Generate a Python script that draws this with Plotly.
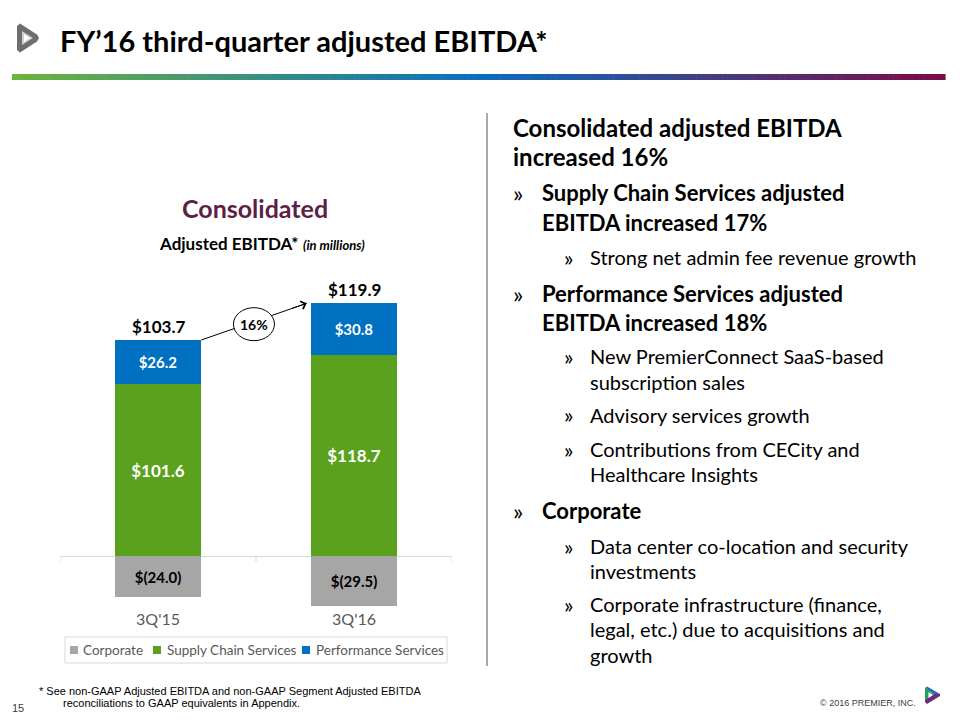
import plotly.graph_objects as go

# ---------------- data ----------------
categories = ["3Q'15", "3Q'16"]
corporate = [-24.0, -29.5]
supply_chain = [101.6, 118.7]
performance = [26.2, 30.8]
totals = [103.7, 119.9]
growth_label = "16%"

series_names = ["Corporate", "Supply Chain Services", "Performance Services"]
series_colors = ["#A6A6A6", "#5AA21E", "#0070C0"]

title_text = "FY\u201916 third-quarter adjusted EBITDA*"
chart_title = "Consolidated"
chart_subtitle = "Adjusted EBITDA*"
chart_subtitle_note = "(in millions)"

bullets = [
    # (level, text lines)
    (0, ["Consolidated adjusted EBITDA", "increased 16%"]),
    (1, ["Supply Chain Services adjusted", "EBITDA increased 17%"]),
    (2, ["Strong net admin fee revenue growth"]),
    (1, ["Performance Services adjusted", "EBITDA increased 18%"]),
    (2, ["New PremierConnect SaaS-based", "subscription sales"]),
    (2, ["Advisory services growth"]),
    (2, ["Contributions from CECity and", "Healthcare Insights"]),
    (1, ["Corporate"]),
    (2, ["Data center co-location and security", "investments"]),
    (2, ["Corporate infrastructure (finance,", "legal, etc.) due to acquisitions and", "growth"]),
]
footnote_lines = ["* See non-GAAP Adjusted EBITDA and non-GAAP Segment Adjusted EBITDA",
                  "reconciliations to GAAP equivalents in Appendix."]
page_number = "15"
copyright_text = "\u00a9 2016 PREMIER, INC."


def money(v):
    return f"$({abs(v):.1f})" if v < 0 else f"${v:.1f}"


# ---------------- layout helpers ----------------
W, H = 960, 720
FONT = "Lato, Open Sans, sans-serif"
NARROW = "Liberation Sans Narrow, Liberation Sans, Arial, sans-serif"


def px(x, y):
    return x / W, 1 - y / H


ZERO_PX, PX_PER_UNIT, PLOT_TOP, PLOT_BOT = 556, 1.69, 280, 608
PLOT_LEFT, PLOT_RIGHT = 60, 452
y_range = [-(PLOT_BOT - ZERO_PX) / PX_PER_UNIT, (ZERO_PX - PLOT_TOP) / PX_PER_UNIT]
BAR_W = 0.435

fig = go.Figure()
label_styles = [
    dict(color="black", size=15),
    dict(color="white", size=17),
    dict(color="white", size=15),
]
for name, vals, color, lab in zip(series_names, [corporate, supply_chain, performance],
                                   series_colors, label_styles):
    fig.add_bar(
        name=name, x=categories, y=vals, width=BAR_W,
        marker=dict(color=color, line=dict(width=0)),
        text=[money(v) for v in vals], textposition="inside",
        insidetextanchor="middle", textangle=0,
        textfont=dict(family=FONT, weight="bold", **lab),
        constraintext="none", hoverinfo="skip", showlegend=False,
    )

shapes = []
annotations = []


def ann(xp, yp, text, size, color="black", weight="normal", family=FONT,
        xanchor="left", yanchor="middle", style="normal"):
    x, y = px(xp, yp)
    annotations.append(dict(x=x, y=y, xref="paper", yref="paper", text=text,
                            xanchor=xanchor, yanchor=yanchor, showarrow=False,
                            font=dict(family=family, size=size, color=color,
                                      weight=weight, style=style)))


def path(points):
    s = ""
    for i, (pxx, pyy) in enumerate(points):
        X, Y = px(pxx, pyy)
        s += ("M" if i == 0 else "L") + f"{X:.5f},{Y:.5f} "
    return s + "Z"


# category boundary tick marks on the zero line
for xb in [-0.5, 0.5, 1.5]:
    shapes.append(dict(type="line", xref="x", yref="y", x0=xb, x1=xb,
                       ysizemode="pixel", yanchor=0, y0=0, y1=-6,
                       line=dict(color="#D9D9D9", width=1)))

# totals above stacks
stack_tops = [s + p for s, p in zip(supply_chain, performance)]
for c, t, top in zip(categories, totals, stack_tops):
    annotations.append(dict(x=c, y=top, xref="x", yref="y", text=money(t),
                            showarrow=False, xanchor="center", yanchor="bottom", yshift=1,
                            font=dict(family=FONT, size=17, color="black", weight="bold")))

# growth arrow
x_start, y_start = 0 + BAR_W / 2 + 0.003, stack_tops[0]
x_end, y_end = 1 - BAR_W / 2 - 0.024, stack_tops[1]
x_mid, y_mid = (x_start + x_end) / 2, (y_start + y_end) / 2
shapes.append(dict(type="line", xref="x", yref="y", x0=x_start, y0=y_start,
                   x1=x_end, y1=y_end, line=dict(color="black", width=1)))
shapes.append(dict(type="circle", xref="x", yref="y", xsizemode="pixel", ysizemode="pixel",
                   xanchor=x_mid, yanchor=y_mid, x0=-20.5, x1=20.5, y0=-19, y1=14,
                   fillcolor="white", line=dict(color="black", width=1)))
t_head = 0.85
annotations.append(dict(x=x_end, y=y_end, xref="x", yref="y", text="",
                        ax=x_start + (x_end - x_start) * t_head,
                        ay=y_start + (y_end - y_start) * t_head,
                        axref="x", ayref="y", showarrow=True, arrowhead=4,
                        arrowsize=1.6, arrowwidth=1, arrowcolor="black", standoff=0))
annotations.append(dict(x=x_mid, y=y_mid, xref="x", yref="y", text=growth_label,
                        showarrow=False, xanchor="center", yanchor="middle", yshift=-3,
                        font=dict(family=FONT, size=14, color="black", weight="bold")))

# chart titles
ann(255, 208, chart_title, 25, color="#5C1F45", weight="bold", xanchor="center")
ann(262, 243,
    f"<b>{chart_subtitle}</b> <i><span style='font-size:13px'><b>{chart_subtitle_note}</b></span></i>",
    17, xanchor="center")

# slide title
ann(58, 40, title_text, 29, weight="bold")

# gradient rule under title
stops = [(0.0, (108, 180, 60)), (0.5, (10, 110, 190)), (1.0, (125, 10, 70))]


def grad(t):
    for (t0, c0), (t1, c1) in zip(stops[:-1], stops[1:]):
        if t0 <= t <= t1:
            f = (t - t0) / (t1 - t0)
            return "rgb(%d,%d,%d)" % tuple(round(a + (b - a) * f) for a, b in zip(c0, c1))
    return "rgb(%d,%d,%d)" % stops[-1][1]


N = 180
gx0, gx1, gy0, gy1 = 12, 945, 74, 80
for i in range(N):
    a = gx0 + (gx1 - gx0) * i / N
    b = gx0 + (gx1 - gx0) * (i + 1) / N + 0.6
    xa, ya = px(a, gy0)
    xb, yb = px(b, gy1)
    shapes.append(dict(type="rect", xref="paper", yref="paper", x0=xa, x1=xb, y0=yb, y1=ya,
                       fillcolor=grad((i + 0.5) / N), line=dict(width=0)))

# vertical divider
xa, ya = px(487, 113)
xb, yb = px(487, 666)
shapes.append(dict(type="line", xref="paper", yref="paper", x0=xa, x1=xb, y0=ya, y1=yb,
                   line=dict(color="#8C8C8C", width=1.5)))

# top-left logo (gray)
shapes.append(dict(type="path", xref="paper", yref="paper",
                   path=path([(17, 26), (20, 23.5), (37, 34.5), (39, 38), (37, 41.5), (20, 52.5), (17, 50)]),
                   fillcolor="#6E6E6E", line=dict(width=0)))
shapes.append(dict(type="path", xref="paper", yref="paper",
                   path=path([(22, 31), (33, 38), (22, 45)]),
                   fillcolor="#D0D0D0", line=dict(width=0)))
shapes.append(dict(type="path", xref="paper", yref="paper",
                   path=path([(24, 34), (30, 38), (24, 42)]),
                   fillcolor="white", line=dict(width=0)))

# bottom-right logo (colored)
shapes.append(dict(type="path", xref="paper", yref="paper",
                   path=path([(925, 688), (934, 694), (929, 697), (925, 700)]),
                   fillcolor="#1AA35A", line=dict(width=0)))
shapes.append(dict(type="path", xref="paper", yref="paper",
                   path=path([(925, 688), (927, 686.5), (940, 694), (934, 694)]),
                   fillcolor="#1F6FB8", line=dict(width=0)))
shapes.append(dict(type="path", xref="paper", yref="paper",
                   path=path([(940, 694), (940, 696), (927, 704), (925, 702), (925, 700), (929, 697), (934, 694)]),
                   fillcolor="#6A2C7C", line=dict(width=0)))
shapes.append(dict(type="path", xref="paper", yref="paper",
                   path=path([(928.5, 692), (933, 695), (928.5, 698)]),
                   fillcolor="white", line=dict(width=0)))

# legend (drawn by hand to match the compact Office-style legend box)
legend_box = (65, 637, 447, 663)
legend_square_x = [70, 153, 302]
legend_text_x = [81, 165, 314]
legend_y = 650
xa, ya = px(legend_box[0], legend_box[1])
xb, yb = px(legend_box[2], legend_box[3])
shapes.append(dict(type="rect", xref="paper", yref="paper", x0=xa, x1=xb, y0=yb, y1=ya,
                   line=dict(color="#D9D9D9", width=1), fillcolor="rgba(0,0,0,0)"))
for name, color, sx, tx in zip(series_names, series_colors, legend_square_x, legend_text_x):
    xa, ya = px(sx, legend_y - 4)
    xb, yb = px(sx + 8, legend_y + 4)
    shapes.append(dict(type="rect", xref="paper", yref="paper", x0=xa, x1=xb, y0=yb, y1=ya,
                       fillcolor=color, line=dict(width=0)))
    ann(tx, legend_y, name, 13.5, color="#595959")

# right-hand bullet text
line_y = {
    0: [127, 156],
    1: [193, 222], 2: [257], 3: [293, 322], 4: [356, 382], 5: [415],
    6: [449, 474], 7: [510], 8: [546, 571], 9: [604, 629, 655],
}
level_cfg = {
    0: dict(x=511, bullet_x=None, size=24, weight="bold"),
    1: dict(x=540, bullet_x=511, size=22, weight="bold"),
    2: dict(x=588, bullet_x=562, size=20, weight="normal"),
}
for idx, (lvl, lines) in enumerate(bullets):
    cfg = level_cfg[lvl]
    for j, (txt, yy) in enumerate(zip(lines, line_y[idx])):
        ann(cfg["x"], yy, txt, cfg["size"], weight=cfg["weight"])
        if j == 0 and cfg["bullet_x"] is not None:
            ann(cfg["bullet_x"], yy, "\u00bb", cfg["size"] + 2)

# footer
ann(37, 691, footnote_lines[0], 11, family=NARROW)
ann(61, 703, footnote_lines[1], 11, family=NARROW)
ann(10, 708, page_number, 11, color="#404040", family=NARROW)
ann(918, 703, copyright_text, 9, color="#404040", family=NARROW, xanchor="right")

fig.update_layout(
    width=W, height=H, margin=dict(l=0, r=0, t=0, b=0, autoexpand=False),
    paper_bgcolor="white", plot_bgcolor="white",
    barmode="relative", bargap=0, showlegend=False,
    font=dict(family=FONT),
    xaxis=dict(domain=[PLOT_LEFT / W, PLOT_RIGHT / W], range=[-0.5, 1.5],
               showgrid=False, showline=False, ticks="", fixedrange=True,
               tickfont=dict(family=FONT, size=16, color="#595959")),
    yaxis=dict(domain=[1 - PLOT_BOT / H, 1 - PLOT_TOP / H], range=y_range,
               showgrid=False, showticklabels=False, zeroline=True,
               zerolinecolor="#D9D9D9", zerolinewidth=1, fixedrange=True),
    shapes=shapes, annotations=annotations,
)

fig.write_html(
    "out.html",
    config={"displayModeBar": False},
    post_script="document.body.style.margin='0';document.body.style.overflow='hidden';",
)
